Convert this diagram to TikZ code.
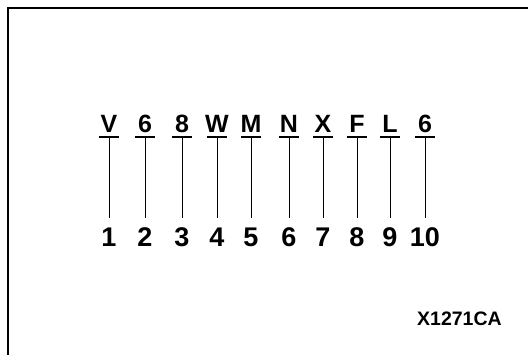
\documentclass[tikz,border=0pt]{standalone}
\usepackage{fontspec}
\setmainfont{Liberation Sans}
\usetikzlibrary{positioning}

\begin{document}
\begin{tikzpicture}[x=1pt, y=-1pt,
    code_char/.style={font=\fontsize{25}{25}\selectfont\bfseries, inner sep=0pt, anchor=base},
    pos_num/.style={font=\fontsize{27}{27}\selectfont\bfseries, inner sep=0pt, anchor=base},
    fig_id/.style={font=\fontsize{19.5}{19.5}\selectfont\bfseries, inner sep=0pt, anchor=base west},
    code_bar/.style={line width=2.5pt},
    lead_line/.style={line width=1pt, shorten >=9pt}
]

  % --- Page and frame ---
  \useasboundingbox (0,0) rectangle (528,354);
  \clip (0,0) rectangle (528,354);
  \draw[line width=2pt] (8,8) rectangle (540,370);

  % --- Code characters and their positions ---
  \foreach \x/\c/\n in {109/V/1, 145/6/2, 182/8/3, 217/W/4, 251/M/5,
                        289/N/6, 323/X/7, 357/F/8, 390/L/9, 425/6/10} {
    \node[code_char] (c\n) at (\x,132) {\c};
    \coordinate (t\n) at (\x,137);
    \draw[code_bar] ([xshift=-10pt]t\n) -- ([xshift=10pt]t\n);
    \node[pos_num] (n\n) at (\x,246) {\n};
    \draw[lead_line] (t\n) -- (n\n);
  }

  % --- Figure number ---
  \node[fig_id] (fig) at (417,325) {X1271CA};

\end{tikzpicture}
\end{document}
